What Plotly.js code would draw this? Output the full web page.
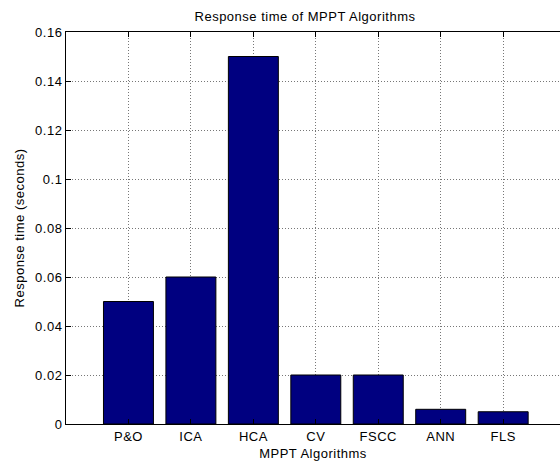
<!DOCTYPE html>
<html><head><meta charset="utf-8">
<script src="https://cdn.plot.ly/plotly-3.0.1.min.js"></script>
<style>body{margin:0;background:#fff}#c{width:560px;height:468px}
.main-svg text{letter-spacing:0.5px}</style>
</head><body><div id="c"></div>
<script>
const categories = ["P&O","ICA","HCA","CV","FSCC","ANN","FLS"];
const responseTime = [0.05, 0.06, 0.15, 0.02, 0.02, 0.006, 0.005];
const yTicks = [0, 0.02, 0.04, 0.06, 0.08, 0.1, 0.12, 0.14, 0.16];

const xPos = categories.map((c, i) => i + 1);
const font = {family: "Liberation Sans, Arial, sans-serif", size: 13, color: "#000"};
Plotly.newPlot("c", [{
  type: "bar", x: xPos, y: responseTime, width: 0.8,
  marker: {color: "#000080", line: {color: "#000", width: 1}}
}], {
  width: 560, height: 468,
  margin: {l: 66, r: 0, t: 32, b: 44},
  paper_bgcolor: "#fff", plot_bgcolor: "#fff",
  font: font,
  showlegend: false,
  title: {text: "Response time of MPPT Algorithms", font: font,
          xref: "container", x: 305/560, xanchor: "center",
          yref: "container", y: 1 - 16/468, yanchor: "middle"},
  xaxis: {
    range: [0, 7.91], tickvals: xPos, ticktext: categories,
    showgrid: true, gridcolor: "#777", griddash: "1px,2px", gridwidth: 1,
    zeroline: false, showline: true, linecolor: "#000", linewidth: 1, mirror: "ticks",
    ticks: "inside", ticklen: 5, tickcolor: "#000",
    title: {text: "MPPT Algorithms", font: font, standoff: 6},
    automargin: true,
    tickfont: font
  },
  yaxis: {
    range: [0, 0.16], tickvals: yTicks, ticktext: yTicks.map(String),
    showgrid: true, gridcolor: "#777", griddash: "1px,2px", gridwidth: 1,
    zeroline: false, showline: true, linecolor: "#000", linewidth: 1, mirror: false,
    ticks: "inside", ticklen: 5, tickcolor: "#000",
    title: {text: "Response time (seconds)", font: font, standoff: 9},
    tickfont: font
  }
}, {displayModeBar: false, staticPlot: true});
</script></body></html>
